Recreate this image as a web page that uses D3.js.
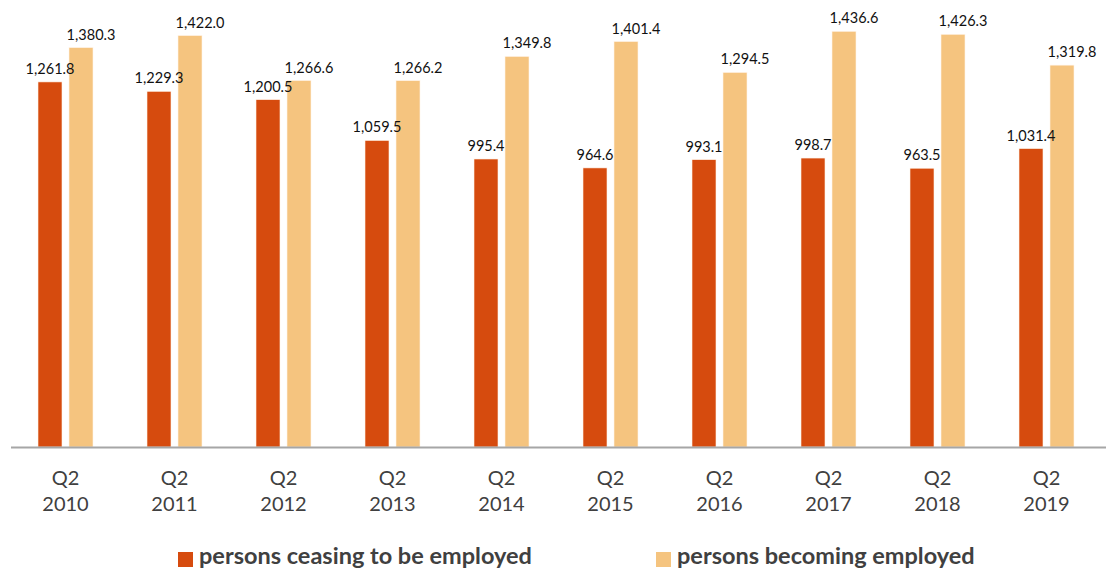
<!DOCTYPE html>
<html>
<head>
<meta charset="utf-8">
<script src="https://cdn.jsdelivr.net/npm/d3@7"></script>
<style>
  html, body { margin: 0; padding: 0; background: #fff; }
  svg { display: block; }
</style>
</head>
<body>
<svg id="chart" width="1106" height="569"></svg>
<script>
const categories = ["2010", "2011", "2012", "2013", "2014", "2015", "2016", "2017", "2018", "2019"];
const quarterLabel = "Q2";
const seriesNames = ["persons ceasing to be employed", "persons becoming employed"];
const ceasing = [1261.8, 1229.3, 1200.5, 1059.5, 995.4, 964.6, 993.1, 998.7, 963.5, 1031.4];
const becoming = [1380.3, 1422.0, 1266.6, 1266.2, 1349.8, 1401.4, 1294.5, 1436.6, 1426.3, 1319.8];
const colors = ["#D64B0E", "#F5C47F"];

const W = 1106, H = 569;
const svg = d3.select("#chart");
const font = "Lato, 'Open Sans', sans-serif";

const x = d3.scaleBand().domain(categories).range([11, 1101]).paddingInner(0).paddingOuter(0);
const xs = d3.scaleBand().domain([0, 1]).range([0, x.bandwidth()]).paddingInner(0.2258).paddingOuter(0.871);
const y = d3.scaleLinear().domain([0, 1500]).range([447, 13]);

const seriesData = [ceasing, becoming];
const fmt = d3.format(",.1f");

const barsG = svg.append("g");
const labelsG = svg.append("g");

seriesData.forEach((vals, si) => {
  barsG.append("g").selectAll("rect").data(vals).join("rect")
    .attr("x", (d, i) => x(categories[i]) + xs(si))
    .attr("width", xs.bandwidth())
    .attr("y", d => y(d))
    .attr("height", d => y(0) - y(d))
    .attr("fill", colors[si])
    .attr("stroke", "#fff3e8")
    .attr("stroke-width", 0.6);
  labelsG.append("g").selectAll("text").data(vals).join("text")
    .attr("x", (d, i) => x(categories[i]) + xs(si) + xs.bandwidth() / 2 + (si === 1 ? 10 : 0))
    .attr("y", d => y(d) - 8)
    .attr("text-anchor", "middle")
    .attr("font-family", font)
    .attr("font-size", 14.5)
    .attr("fill", "#111")
    .text(d => fmt(d));
});

// x axis
const axis = d3.axisBottom(x).tickSize(0).tickFormat(() => "");
const ag = svg.append("g").attr("transform", `translate(0,${y(0)})`).call(axis);
ag.select(".domain").remove();
svg.append("line")
  .attr("x1", 11).attr("x2", W)
  .attr("y1", y(0) + 0.5).attr("y2", y(0) + 0.5)
  .attr("stroke", "#a6a6a6").attr("stroke-width", 2);

ag.selectAll(".tick").each(function(d) {
  const t = d3.select(this).append("text")
    .attr("text-anchor", "middle")
    .attr("font-family", font)
    .attr("font-size", 20)
    .attr("fill", "#404040");
  t.append("tspan").attr("x", 0).attr("y", 485 - 447).text(quarterLabel);
  t.append("tspan").attr("x", 0).attr("y", 510.5 - 447).text(d);
});

// legend
const legendX = [178, 656];
seriesNames.forEach((name, i) => {
  svg.append("rect")
    .attr("x", legendX[i]).attr("y", 552)
    .attr("width", 15).attr("height", 15)
    .attr("fill", colors[i]);
  svg.append("text")
    .attr("x", legendX[i] + 21).attr("y", 564)
    .attr("font-family", font)
    .attr("font-size", 23.5)
    .attr("font-weight", "bold")
    .attr("fill", "#404040")
    .text(name);
});
</script>
</body>
</html>
